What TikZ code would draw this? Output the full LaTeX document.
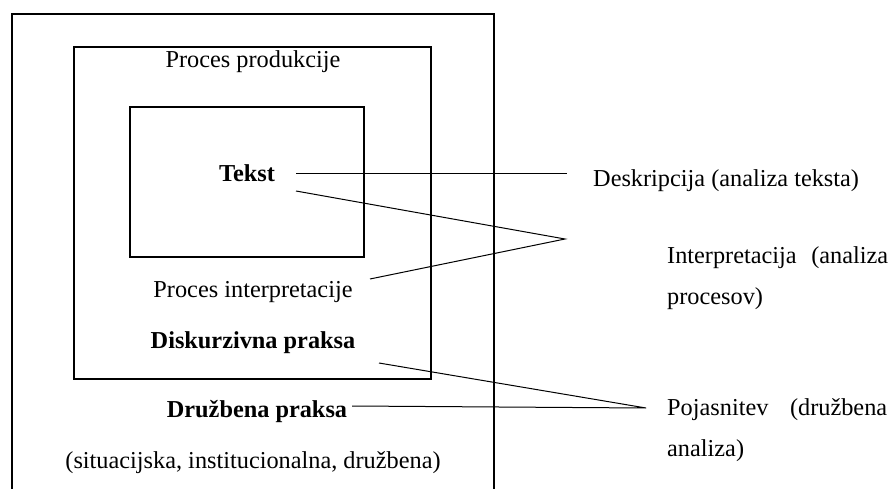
\documentclass[tikz,border=0pt]{standalone}
\usepackage{fontspec}
\setmainfont{Liberation Serif}
\begin{document}
\begin{tikzpicture}[x=1pt,y=1pt,
  txt/.style={font=\fontsize{24.3}{41}\selectfont, inner sep=0pt, anchor=base},
  bldtxt/.style={txt, font=\fontsize{24.3}{41}\selectfont\bfseries},
  frame/.style={draw=black, line width=1.3pt},
  conn/.style={draw=black, line width=1pt}]
\useasboundingbox (0,0) rectangle (889,488);
% boxes
\draw[frame] (12,-5) -- (12,474) -- (494,474) -- (494,-5);
\draw[frame] (74,109) rectangle (431,441);
\draw[frame] (130,231) rectangle (364,381);
% left texts
\node[txt] (prod) at (253,420) {Proces produkcije};
\node[bldtxt] (tekst) at (247,306) {Tekst};
\node[txt] (interp) at (253,191) {Proces interpretacije};
\node[bldtxt] (disk) at (253,140) {Diskurzivna praksa};
\node[bldtxt] (druz) at (257,71) {Družbena praksa};
\node[txt] (sit) at (253,20) {(situacijska, institucionalna, družbena)};
% right texts
\node[txt, anchor=base west] (desk) at (593,301) {Deskripcija (analiza teksta)};
\node[txt, anchor=base west, align=left] (intp) at (667,184) {\makebox[221pt][s]{Interpretacija (analiza}\\procesov)};
\node[txt, anchor=base west, align=left] (poj) at (667,32) {\makebox[220pt][s]{Pojasnitev (družbena}\\analiza)};
% connector end points
\coordinate (t1) at (296,314);
\coordinate (t1e) at (567,314);
\coordinate (t2) at (296,297);
\coordinate (apexI) at (565,249);
\coordinate (pi) at (370,209);
\coordinate (dk) at (379,125);
\coordinate (dz) at (352,82);
\coordinate (apexP) at (646,80);
% connectors
\draw[conn] (t1) -- (t1e);
\draw[conn] (t2) -- (apexI) -- (pi);
\draw[conn] (dk) -- (apexP) -- (dz);
\end{tikzpicture}
\end{document}
